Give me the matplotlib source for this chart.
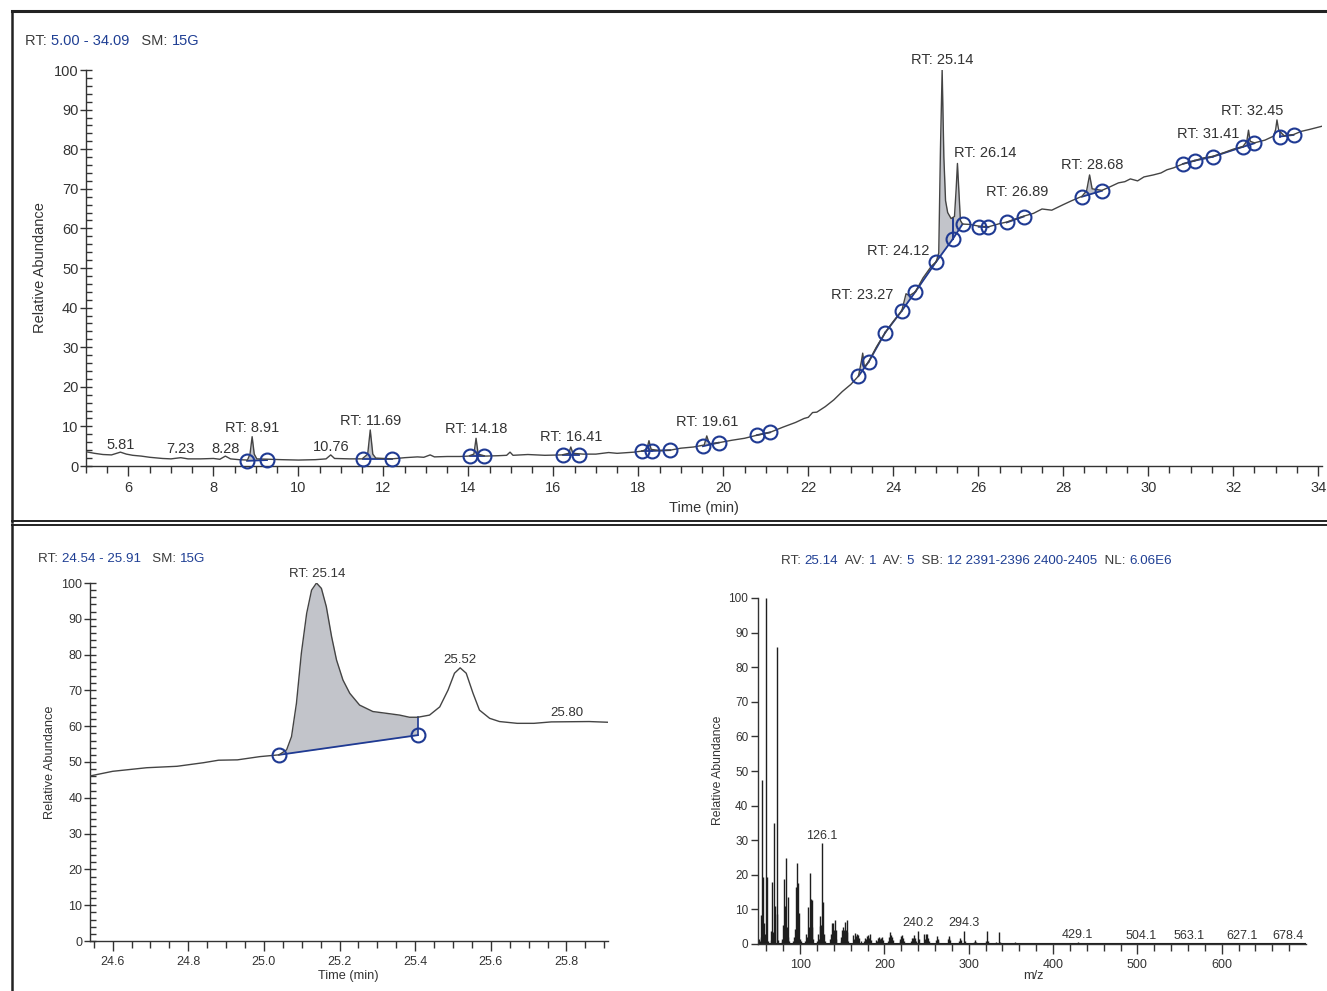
import numpy as np
import matplotlib
matplotlib.use('Agg')
import matplotlib.pyplot as plt
from matplotlib.ticker import MultipleLocator, FormatStrFormatter, FixedLocator
from matplotlib.lines import Line2D

plt.rcParams['font.family'] = ['Liberation Sans', 'DejaVu Sans']

# ---- top chromatogram RT 5.00 - 34.09 ----
tic_time = [5.00, 5.2, 5.4, 5.6, 5.81, 5.95, 6.1, 6.3, 6.5, 6.8, 7.0, 7.23, 7.4, 7.7, 8.0, 8.15,
            8.28, 8.4, 8.6, 8.80, 8.86, 8.91, 8.96, 9.02, 9.3, 9.6, 10.0, 10.4, 10.65, 10.76, 10.85,
            11.2, 11.5, 11.63, 11.69, 11.75, 11.82, 12.2, 12.5, 12.8, 12.95, 13.1, 13.2, 13.5, 13.8,
            14.0, 14.13, 14.18, 14.23, 14.4, 14.7, 14.9, 14.98, 15.05, 15.4, 15.8, 16.2, 16.36, 16.41,
            16.46, 16.7, 17.0, 17.3, 17.5, 17.9, 18.1, 18.2, 18.25, 18.3, 18.5, 18.75, 19.0, 19.3,
            19.55, 19.61, 19.67, 19.9, 20.2, 20.5, 20.8, 21.1, 21.4, 21.7, 21.9, 22.0, 22.1, 22.2,
            22.4, 22.6, 22.8, 23.0, 23.18, 23.25, 23.28, 23.32, 23.42, 23.6, 23.81, 24.0, 24.2, 24.3,
            24.38, 24.52, 24.7, 24.9, 25.01, 25.07, 25.11, 25.15, 25.19, 25.23, 25.28, 25.36, 25.44,
            25.48, 25.51, 25.54, 25.58, 25.63, 25.8, 26.0, 26.24, 26.5, 26.67, 26.9, 27.07, 27.3,
            27.5, 27.73, 28.0, 28.2, 28.44, 28.55, 28.62, 28.68, 28.91, 29.1, 29.3, 29.45, 29.58,
            29.75, 29.9, 30.12, 30.3, 30.44, 30.6, 30.82, 31.09, 31.3, 31.52, 31.8, 32.0, 32.23,
            32.32, 32.36, 32.4, 32.5, 32.75, 32.95, 33.0, 33.03, 33.07, 33.2, 33.42, 33.6, 33.8, 34.09]
tic_abund = [3.6, 3.2, 2.9, 2.8, 3.5, 3.0, 2.7, 2.5, 2.2, 1.9, 1.8, 2.1, 1.8, 1.8, 1.9, 1.7,
             2.5, 1.8, 1.6, 1.5, 3.0, 7.4, 3.0, 1.8, 1.7, 1.6, 1.5, 1.6, 1.8, 2.8, 1.9,
             1.8, 1.8, 3.0, 9.1, 3.0, 2.0, 1.8, 2.1, 2.3, 2.2, 2.8, 2.3, 2.4, 2.4,
             2.5, 3.0, 7.0, 3.0, 2.5, 2.6, 2.7, 3.5, 2.7, 2.9, 2.7, 2.8, 3.2, 4.8,
             3.2, 3.0, 3.0, 3.4, 3.2, 3.5, 3.8, 4.3, 6.4, 4.2, 3.9, 4.0, 4.5, 4.8,
             5.3, 7.6, 5.6, 5.9, 6.5, 7.0, 7.8, 8.5, 9.8, 11.0, 12.0, 12.3, 13.5, 13.6,
             15.0, 16.7, 18.8, 20.6, 22.7, 26.5, 28.5, 25.0, 26.3, 30.0, 33.7, 36.5, 39.2, 43.5,
             43.0, 44.0, 47.5, 50.5, 51.6, 53.8, 80.0, 100.0, 78.0, 67.0, 64.0, 62.5, 63.0,
             70.0, 76.4, 70.0, 62.0, 61.1, 61.0, 60.6, 60.4, 61.2, 61.6, 62.5, 63.1, 63.8,
             64.9, 64.6, 66.0, 67.0, 68.1, 69.5, 73.5, 70.0, 69.6, 70.5, 71.5, 71.8, 72.5,
             72.0, 73.0, 73.5, 74.0, 74.8, 75.3, 76.3, 77.1, 77.8, 78.2, 79.2, 80.0, 80.7,
             82.0, 84.8, 82.0, 81.6, 82.3, 83.3, 85.0, 87.4, 84.8, 83.4, 83.7, 84.5, 85.0, 85.8]
tic_circ_time = [8.79, 9.26, 11.52, 12.2, 14.03, 14.36, 16.23, 16.6, 18.09, 18.32, 18.75,
                 19.52, 19.89, 20.79, 21.1, 23.18, 23.42, 23.81, 24.2, 24.52, 25.01, 25.4,
                 25.63, 26.01, 26.24, 26.67, 27.07, 28.44, 28.91, 30.82, 31.09, 31.52, 32.23,
                 32.5, 33.1, 33.42]
tic_circ_abund = [1.3, 1.5, 1.8, 1.8, 2.5, 2.5, 2.8, 2.8, 3.8, 3.8, 4.0,
                  5.0, 5.9, 7.8, 8.5, 22.7, 26.3, 33.7, 39.2, 44.0, 51.6, 57.3,
                  61.1, 60.4, 60.3, 61.5, 63.0, 68.0, 69.5, 76.3, 77.1, 78.1, 80.6,
                  81.5, 83.2, 83.6]
tic_base_pairs = [(0, 1), (2, 3), (4, 5), (6, 7), (8, 9), (9, 10), (11, 12), (13, 14),
                  (15, 16), (16, 17), (17, 18), (18, 19), (19, 20), (20, 21), (21, 22),
                  (23, 24), (25, 26), (27, 28), (29, 30), (30, 31), (31, 32), (32, 33), (34, 35)]
tic_labels = ['5.81', '7.23', '8.28', 'RT: 8.91', '10.76', 'RT: 11.69', 'RT: 14.18', 'RT: 16.41',
              'RT: 19.61', 'RT: 23.27', 'RT: 24.12', 'RT: 25.14', 'RT: 26.14', 'RT: 26.89',
              'RT: 28.68', 'RT: 31.41', 'RT: 32.45']
tic_label_time = [5.81, 7.23, 8.28, 8.91, 10.76, 11.69, 14.19, 16.41, 19.61, 23.27, 24.12,
                  25.14, 26.16, 26.92, 28.68, 31.41, 32.45]
tic_label_y = [5.3, 4.3, 4.3, 9.6, 4.8, 11.4, 9.3, 7.3, 11.1, 43.2, 54.3, 102.5, 79.0, 69.2,
               76.0, 83.8, 89.6]

# ---- zoomed peak RT 24.54 - 25.91 ----
zoom_time = [24.54, 24.60, 24.69, 24.77, 24.84, 24.88, 24.93, 24.989, 25.04, 25.06, 25.073,
             25.086, 25.099, 25.113, 25.126, 25.139, 25.152, 25.165, 25.179, 25.192, 25.209,
             25.227, 25.253, 25.288, 25.324, 25.359, 25.385, 25.407, 25.438, 25.465, 25.487,
             25.504, 25.519, 25.535, 25.553, 25.57, 25.597, 25.623, 25.67, 25.714, 25.76,
             25.86, 25.91]
zoom_abund = [46.1, 47.4, 48.4, 48.8, 49.8, 50.5, 50.6, 51.5, 52.0, 53.4, 57.1,
              66.4, 80.4, 91.5, 98.0, 100.0, 98.5, 93.4, 85.0, 78.5, 72.9,
              69.2, 65.9, 64.1, 63.6, 63.1, 62.5, 62.5, 63.1, 65.4, 70.1,
              74.8, 76.3, 74.8, 69.2, 64.5, 62.2, 61.3, 60.8, 60.8, 61.2,
              61.3, 61.1]
zoom_circ_time = [25.04, 25.407]
zoom_circ_abund = [52.0, 57.5]
zoom_base_pairs = [(0, 1)]
zoom_labels = ['RT: 25.14', '25.52', '25.80']
zoom_label_time = [25.14, 25.518, 25.80]
zoom_label_y = [102.5, 78.5, 63.7]

# ---- mass spectrum at RT 25.14 ----
ms_mz = [50, 51, 52, 53, 54, 55, 56, 57, 58, 59.5, 60.5, 62,
         65, 66, 67, 68, 69, 70.5, 72, 73, 74,
         78, 79, 80, 81, 82, 83.4, 84, 85, 86, 87,
         92, 93, 94, 95, 96, 96.8, 98, 99, 100, 101,
         106, 107, 108, 109, 110, 111.8, 112.8, 113.5, 114.5, 115.5,
         120, 121, 122, 123, 124, 125, 126.1, 127, 128, 129,
         135, 136, 137, 138, 139, 140, 141, 142, 143,
         148, 149, 150, 151, 152, 153, 154, 155, 156, 157,
         163, 164, 165, 166, 167, 168, 169, 170, 172,
         176, 177, 178, 179, 180, 181, 182, 183, 184,
         190, 191, 192, 193, 194, 195, 196, 197, 198,
         204, 205, 206, 207, 208, 209, 210,
         218, 219, 220, 221, 222, 223,
         232, 233, 234, 235, 236, 238, 240.2, 241,
         247, 248, 249, 250, 251, 252, 253,
         261, 262, 263, 264, 275, 276, 277, 278,
         289, 290, 291, 294.3, 295, 306, 307, 308,
         321, 322, 323, 332, 336, 337, 340,
         350, 355, 364, 378, 392, 406, 416, 429.1, 443, 456, 470, 490,
         504.1, 520, 535, 549, 563.1, 590, 612, 627.1, 650, 678.4]
ms_int = [0.5, 1.5, 0.8, 8.5, 2.0, 47.4, 19.4, 6.0, 3.0, 100, 19.4, 1.0,
          1.2, 3.8, 18.0, 3.5, 34.9, 11.1, 85.9, 8.7, 1.2,
          1.0, 1.5, 5.5, 18.9, 11.0, 25.0, 5.0, 13.5, 2.0, 0.8,
          1.0, 2.0, 4.3, 16.4, 13.0, 23.3, 17.5, 9.1, 1.5, 0.8,
          1.0, 2.9, 2.0, 10.6, 5.0, 20.4, 13.1, 12.8, 4.9, 1.5,
          1.0, 3.0, 1.5, 8.2, 5.2, 5.5, 29.2, 12.1, 3.0, 1.0,
          1.5, 1.2, 3.0, 6.0, 6.2, 4.0, 7.0, 4.0, 1.5,
          0.8, 2.0, 4.0, 5.0, 4.0, 6.5, 4.0, 6.9, 3.5, 1.0,
          2.5, 1.5, 3.2, 2.2, 2.8, 2.5, 2.6, 1.8, 1.0,
          0.8, 1.8, 1.5, 2.4, 2.0, 2.6, 1.8, 2.8, 1.2,
          1.2, 0.8, 1.8, 1.6, 2.0, 1.5, 1.8, 1.9, 1.2,
          1.0, 2.0, 1.6, 3.4, 2.5, 2.0, 1.2,
          0.8, 1.4, 2.2, 2.5, 1.8, 1.0,
          0.8, 1.6, 1.8, 2.5, 1.8, 1.0, 3.8, 1.5,
          2.8, 1.5, 2.9, 1.2, 2.8, 1.8, 1.0,
          1.2, 2.3, 1.5, 1.0, 1.5, 2.4, 1.8, 1.2,
          1.0, 1.6, 1.2, 3.9, 1.0, 0.6, 1.2, 0.6,
          0.8, 3.8, 0.8, 0.5, 3.6, 0.6, 0.4,
          0.3, 0.5, 0.3, 0.2, 0.3, 0.2, 0.3, 0.6, 0.2, 0.3, 0.2, 0.2,
          0.3, 0.2, 0.2, 0.2, 0.3, 0.2, 0.2, 0.3, 0.2, 0.3]
ms_labels = ['126.1', '240.2', '294.3', '429.1', '504.1', '563.1', '627.1', '678.4']
ms_label_mz = [126.1, 240.2, 294.3, 429.1, 504.1, 561.5, 624.5, 678.4]
ms_label_y = [31.2, 6.1, 6.1, 2.6, 2.3, 2.3, 2.3, 2.3]

W, H = 1327, 991
TXT = '#333333'
KEY = '#3c3c3c'
VAL = '#1f3f94'
BLUE = '#1f3a93'
FILL = '#c2c4ca'
TRACE = '#444444'

fig = plt.figure(figsize=(W / 100, H / 100), dpi=100)


def px_box(l, t, r, b):
    return [l / W, 1 - b / H, (r - l) / W, (b - t) / H]


def fx(px):
    return px / W


def fy(py):
    return 1 - py / H


def style_axes(ax):
    for s in ['top', 'right']:
        ax.spines[s].set_visible(False)
    for s in ['left', 'bottom']:
        ax.spines[s].set_color('#333333')
        ax.spines[s].set_linewidth(1.0)
    ax.patch.set_alpha(0)


def draw_peaks(ax, t, a, ct, ca, pairs):
    t = np.asarray(t)
    a = np.asarray(a)
    for i, j in pairs:
        t0, t1 = ct[i], ct[j]
        inside = (t > t0) & (t < t1)
        xs = np.concatenate([[t0], t[inside], [t1]])
        ys = np.interp(xs, t, a)
        base = np.interp(xs, [t0, t1], [ca[i], ca[j]])
        ax.fill_between(xs, base, ys, where=ys >= base, interpolate=True,
                        color=FILL, lw=0, zorder=1)
        ax.plot([t0, t1], [ca[i], ca[j]], color=BLUE, lw=1.3, zorder=2)
        for k, tt in ((0, t0), (-1, t1)):
            if ys[k] - base[k] > 1.0:
                ax.plot([tt, tt], [base[k], ys[k]], color=BLUE, lw=1.2, zorder=2)
    ax.plot(t, a, color=TRACE, lw=1.0, zorder=3)
    ax.plot(ct, ca, 'o', mfc='none', mec=BLUE, ms=10, mew=1.5, zorder=4, clip_on=False)


def header(ax, x, y, pieces, fs):
    t = fig.text(x, y, pieces[0][0], color=pieces[0][1], fontsize=fs, ha='left', va='bottom')
    for s, c in pieces[1:]:
        t = ax.annotate(s, xy=(1, 0), xycoords=t, ha='left', va='bottom', color=c,
                        fontsize=fs, annotation_clip=False)


# ---- panel frame lines ----
fig.add_artist(Line2D([fx(12), 1], [fy(11), fy(11)], color='#222222', lw=2.2))
fig.add_artist(Line2D([fx(12), fx(12)], [fy(11), fy(522)], color='#222222', lw=1.8))
fig.add_artist(Line2D([fx(12), 1], [fy(521), fy(521)], color='#222222', lw=1.4))
fig.add_artist(Line2D([fx(12), 1], [fy(525), fy(525)], color='#222222', lw=1.4))
fig.add_artist(Line2D([fx(12), fx(12)], [fy(525), 0], color='#222222', lw=1.8))

# ---- top chromatogram ----
ax1 = fig.add_axes(px_box(86, 70, 1322, 466))
style_axes(ax1)
draw_peaks(ax1, tic_time, tic_abund, tic_circ_time, tic_circ_abund, tic_base_pairs)
ax1.set_xlim(5.0, 34.09)
ax1.set_ylim(0, 100)
ax1.set_xticks(np.arange(6, 35, 2))
ax1.xaxis.set_minor_locator(MultipleLocator(0.5))
ax1.set_yticks(np.arange(0, 101, 10))
ax1.yaxis.set_minor_locator(MultipleLocator(2))
ax1.tick_params(axis='x', which='major', direction='out', length=7, width=1,
                colors='#333333', labelsize=10.5, pad=4, labelcolor=TXT)
ax1.tick_params(axis='x', which='minor', direction='out', length=5, width=1, colors='#333333')
ax1.tick_params(axis='y', which='major', direction='inout', length=9, width=1,
                colors='#333333', labelsize=10.5, pad=1, labelcolor=TXT)
ax1.tick_params(axis='y', which='minor', direction='in', length=4, width=1, colors='#333333')
for s, tt, yy in zip(tic_labels, tic_label_time, tic_label_y):
    ax1.text(tt, yy, s, ha='center', va='center', fontsize=10.5, color=TXT, clip_on=False, zorder=5)
fig.text(fx(40), fy(268), 'Relative Abundance', rotation=90, ha='center', va='center',
         fontsize=10.5, color=TXT)
fig.text(fx(704), fy(508), 'Time (min)', ha='center', va='center', fontsize=10.5, color=TXT)
header(ax1, fx(25), fy(48), [('RT: ', KEY), ('5.00 - 34.09', VAL), ('   SM: ', KEY), ('15G', VAL)], 10.5)

# ---- zoomed peak ----
ax2 = fig.add_axes(px_box(90, 583, 608, 941))
style_axes(ax2)
draw_peaks(ax2, zoom_time, zoom_abund, zoom_circ_time, zoom_circ_abund, zoom_base_pairs)
ax2.set_xlim(24.54, 25.91)
ax2.set_ylim(0, 100)
ax2.set_xticks(np.arange(24.6, 25.85, 0.2))
ax2.xaxis.set_major_formatter(FormatStrFormatter('%.1f'))
ax2.xaxis.set_minor_locator(MultipleLocator(0.05))
ax2.set_yticks(np.arange(0, 101, 10))
ax2.yaxis.set_minor_locator(MultipleLocator(2))
ax2.tick_params(axis='x', which='major', direction='out', length=7, width=1,
                colors='#333333', labelsize=9, pad=4, labelcolor=TXT)
ax2.tick_params(axis='x', which='minor', direction='out', length=5, width=1, colors='#333333')
ax2.tick_params(axis='y', which='major', direction='inout', length=9, width=1,
                colors='#333333', labelsize=9, pad=1, labelcolor=TXT)
ax2.tick_params(axis='y', which='minor', direction='in', length=4, width=1, colors='#333333')
for s, tt, yy in zip(zoom_labels, zoom_label_time, zoom_label_y):
    ax2.text(tt, yy, s, ha='center', va='center', fontsize=9.5, color=TXT, clip_on=False, zorder=5)
fig.text(fx(50), fy(762), 'Relative Abundance', rotation=90, ha='center', va='center',
         fontsize=9.2, color=TXT)
fig.text(fx(348), fy(976), 'Time (min)', ha='center', va='center', fontsize=9.2, color=TXT)
header(ax2, fx(38), fy(565), [('RT: ', KEY), ('24.54 - 25.91', VAL), ('   SM: ', KEY), ('15G', VAL)], 9.6)

# ---- mass spectrum ----
ax3 = fig.add_axes(px_box(758, 598, 1306, 944))
style_axes(ax3)
ax3.vlines(ms_mz, 0, ms_int, color='#1e1e1e', lw=1.0)
ax3.axhline(0.15, color='#1e1e1e', lw=0.8)
ax3.set_xlim(50, 700)
ax3.set_ylim(0, 100)
ax3.set_xticks(np.arange(100, 601, 100))
ax3.xaxis.set_minor_locator(FixedLocator([m for m in range(60, 700, 20) if m % 100]))
ax3.set_yticks(np.arange(0, 101, 10))
ax3.tick_params(axis='x', which='major', direction='out', length=7, width=1,
                colors='#333333', labelsize=9, pad=4, labelcolor=TXT)
ax3.tick_params(axis='x', which='minor', direction='out', length=5, width=1, colors='#333333')
ax3.tick_params(axis='y', which='major', direction='out', length=5, width=1,
                colors='#333333', labelsize=8.5, pad=2, labelcolor=TXT)
for s, mm, yy in zip(ms_labels, ms_label_mz, ms_label_y):
    ax3.text(mm, yy, s, ha='center', va='center', fontsize=9, color=TXT, clip_on=False, zorder=5)
fig.text(fx(718), fy(770), 'Relative Abundance', rotation=90, ha='center', va='center',
         fontsize=8.8, color=TXT)
fig.text(fx(1033), fy(976), 'm/z', ha='center', va='center', fontsize=9.2, color=TXT)
header(ax3, fx(781), fy(567),
       [('RT: ', KEY), ('25.14', VAL), ('  AV: ', KEY), ('1', VAL), ('  AV: ', KEY), ('5', VAL),
        ('  SB: ', KEY), ('12 2391-2396 2400-2405', VAL), ('  NL: ', KEY), ('6.06E6', VAL)], 9.6)

fig.savefig('out.png', dpi=100)
